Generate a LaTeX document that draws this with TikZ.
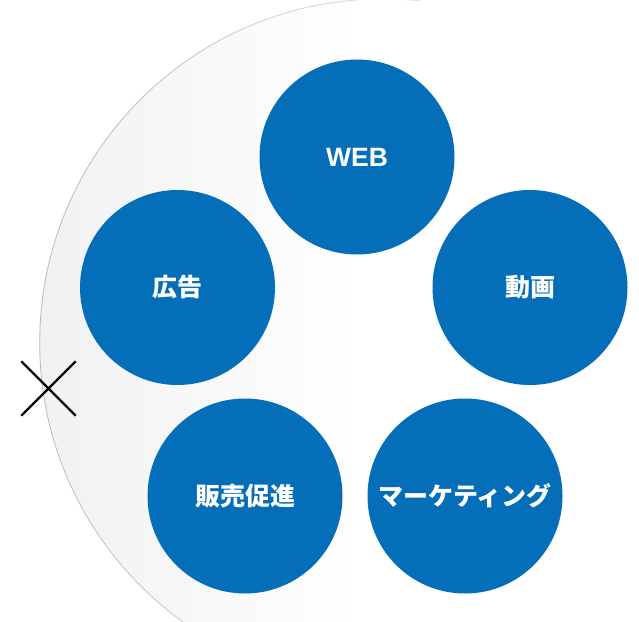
\documentclass[tikz,border=0pt]{standalone}
\usepackage{fontspec}
\newfontfamily\jpfont{Noto Sans CJK JP}
\newfontfamily\latfont{Liberation Sans}
\usetikzlibrary{shapes.misc,fadings}
\definecolor{bubblue}{RGB}{4,111,184}
\definecolor{bggray}{RGB}{240,241,242}
\definecolor{rimgray}{RGB}{185,185,185}
\tikzfading[name=rimfade, left color=transparent!0, middle color=transparent!100, right color=transparent!100]
\tikzset{
  bub/.style={circle, fill=bubblue, draw=none, minimum size=195pt, inner sep=0pt,
    text=white, font=\jpfont\bfseries\fontsize{25}{25}\selectfont},
  latbub/.style={bub, font=\latfont\bfseries\fontsize{26.5}{26.5}\selectfont},
  crossmark/.style={cross out, draw=black, line width=2.4pt, minimum size=52pt, inner sep=0pt}
}
\begin{document}
\begin{tikzpicture}[x=1pt,y=-1pt]
\useasboundingbox (0,0) rectangle (639,621);
% big background disc
\begin{scope}
  \clip (384,342) circle (344);
  \fill[white] (0,0) rectangle (639,700);
  \shade[left color=bggray, right color=white] (40,-10) rectangle (360,700);
\end{scope}
\begin{scope}
  \clip (0,-10) rectangle (420,700);
  \draw[rimgray, line width=0.8pt, path fading=rimfade] (384,342) circle (344);
\end{scope}
% bubbles
\node[latbub] (web) at (357,157) {WEB};
\node[bub] (ad) at (177.5,287.5) {広告};
\node[bub] (video) at (530,287.5) {動画};
\node[bub] (promo) at (245,496) {販売促進};
\node[bub] (mkt) at (465,496) {マーケティング};
% cross mark
\node[crossmark] (cross) at (48.5,388.5) {};
\end{tikzpicture}
\end{document}
